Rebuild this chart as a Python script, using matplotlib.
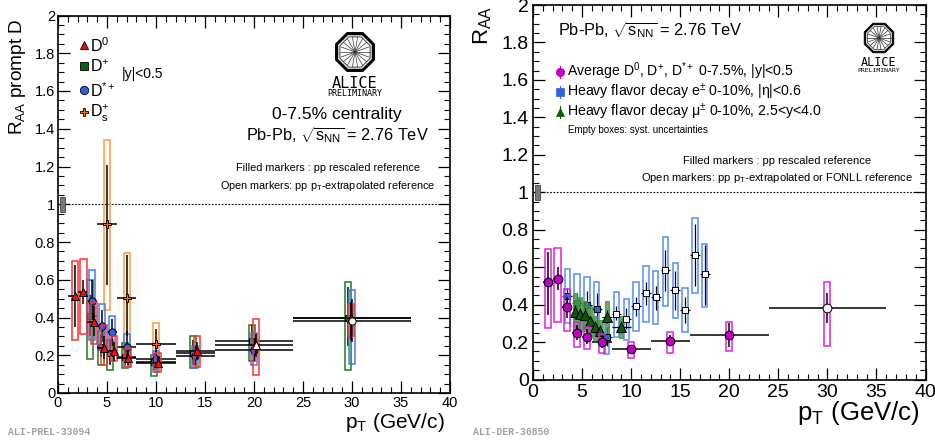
import numpy as np
import matplotlib
matplotlib.use("Agg")
import matplotlib.pyplot as plt
from matplotlib.patches import Rectangle, RegularPolygon
from matplotlib.ticker import MultipleLocator, FixedFormatter, FixedLocator
from matplotlib.transforms import Affine2D

plt.rcParams['font.family'] = ['Liberation Sans', 'DejaVu Sans']
plt.rcParams['mathtext.fontset'] = 'custom'
plt.rcParams['mathtext.rm'] = 'Liberation Sans'
plt.rcParams['mathtext.it'] = 'Liberation Sans'
plt.rcParams['mathtext.bf'] = 'Liberation Sans:bold'

# ---- Left panel data: pT, RAA, syst low/high, stat low/high, bin low/high
d0_pt = [1.7, 2.6, 3.7, 4.7, 5.7, 7.15, 10.2, 14.15, 20.2, 29.9]
d0_v = [0.515, 0.535, 0.378, 0.24, 0.22, 0.187, 0.16, 0.22, 0.254, 0.397]
d0_sl = [0.28, 0.31, 0.26, 0.15, 0.17, 0.14, 0.11, 0.14, 0.094, 0.30]
d0_sh = [0.70, 0.71, 0.48, 0.36, 0.30, 0.24, 0.21, 0.30, 0.39, 0.47]
d0_el = [0.35, 0.47, 0.30, 0.18, 0.17, 0.15, 0.13, 0.18, 0.19, 0.28]
d0_eh = [0.68, 0.60, 0.46, 0.30, 0.27, 0.23, 0.19, 0.27, 0.31, 0.48]
d0_xl = [1, 2, 3, 4, 5, 6, 8, 12, 16, 24]
d0_xh = [2, 3, 4, 5, 6, 8, 12, 16, 24, 36]
d0_open = [8]

dp_pt = [3.27, 4.35, 5.3, 6.85, 9.8, 13.8, 19.8, 29.6]
dp_v = [0.408, 0.245, 0.213, 0.192, 0.165, 0.213, 0.277, 0.397]
dp_sl = [0.18, 0.15, 0.12, 0.135, 0.09, 0.13, 0.17, 0.12]
dp_sh = [0.60, 0.33, 0.28, 0.265, 0.20, 0.30, 0.36, 0.59]
dp_el = [0.30, 0.19, 0.15, 0.15, 0.12, 0.15, 0.20, 0.25]
dp_eh = [0.52, 0.31, 0.28, 0.24, 0.21, 0.28, 0.36, 0.56]
dp_xl = [3, 4, 5, 6, 8, 12, 16, 24]
dp_xh = [4, 5, 6, 8, 12, 16, 24, 36]
dp_open = []

ds_pt = [3.5, 4.5, 5.5, 7.0, 10.0, 14.0, 20.0, 30.0]
ds_v = [0.487, 0.355, 0.322, 0.245, 0.18, 0.196, 0.228, 0.383]
ds_sl = [0.28, 0.23, 0.20, 0.14, 0.11, 0.135, 0.15, 0.154]
ds_sh = [0.65, 0.47, 0.41, 0.31, 0.22, 0.25, 0.32, 0.546]
ds_el = [0.40, 0.27, 0.25, 0.16, 0.13, 0.15, 0.17, 0.27]
ds_eh = [0.60, 0.44, 0.39, 0.33, 0.23, 0.25, 0.29, 0.50]
ds_xl = [3, 4, 5, 6, 8, 12, 16, 24]
ds_xh = [4, 5, 6, 8, 12, 16, 24, 36]
ds_open = [7]

dss_pt = [5.0, 7.0, 10.0]
dss_v = [0.895, 0.503, 0.26]
dss_sl = [0.44, 0.22, 0.13]
dss_sh = [1.34, 0.74, 0.37]
dss_el = [0.57, 0.30, 0.18]
dss_eh = [1.21, 0.73, 0.34]
dss_xl = [4, 6, 8]
dss_xh = [6, 8, 12]

# ---- Right panel data
avg_pt = [1.5, 2.5, 3.5, 4.5, 5.5, 7.0, 10.0, 14.0, 20.0, 30.0]
avg_v = [0.52, 0.538, 0.385, 0.247, 0.229, 0.199, 0.161, 0.206, 0.238, 0.382]
avg_sl = [0.275, 0.307, 0.258, 0.172, 0.161, 0.14, 0.113, 0.14, 0.154, 0.18]
avg_sh = [0.697, 0.70, 0.483, 0.307, 0.282, 0.243, 0.199, 0.255, 0.309, 0.522]
avg_el = [0.344, 0.48, 0.33, 0.21, 0.19, 0.17, 0.145, 0.18, 0.175, 0.303]
avg_eh = [0.68, 0.60, 0.44, 0.29, 0.27, 0.23, 0.18, 0.235, 0.30, 0.46]
avg_xl = [1, 2, 3, 4, 5, 6, 8, 12, 16, 24]
avg_xh = [2, 3, 4, 5, 6, 8, 12, 16, 24, 36]
avg_open = [9]

hfe_pt = [3.5, 4.5, 5.5, 6.5, 7.5, 8.5, 9.5, 10.5, 11.5, 12.5, 13.5, 14.5, 15.5, 16.5, 17.5]
hfe_v = [0.446, 0.41, 0.40, 0.376, 0.229, 0.352, 0.321, 0.391, 0.463, 0.442, 0.583, 0.478, 0.373, 0.665, 0.563]
hfe_sl = [0.30, 0.28, 0.27, 0.238, 0.136, 0.225, 0.209, 0.257, 0.309, 0.296, 0.394, 0.327, 0.255, 0.46, 0.389]
hfe_sh = [0.59, 0.565, 0.55, 0.519, 0.30, 0.469, 0.428, 0.519, 0.608, 0.579, 0.759, 0.624, 0.487, 0.86, 0.724]
hfe_el = [0.40, 0.36, 0.33, 0.29, 0.18, 0.32, 0.27, 0.34, 0.40, 0.37, 0.47, 0.37, 0.30, 0.50, 0.40]
hfe_eh = [0.49, 0.46, 0.47, 0.46, 0.28, 0.39, 0.38, 0.44, 0.52, 0.50, 0.69, 0.58, 0.44, 0.83, 0.72]
hfe_open_from = 5

mu_pt = [4.3, 4.8, 5.3, 5.8, 6.3, 6.8, 7.5, 9.0]
mu_v = [0.362, 0.35, 0.345, 0.31, 0.28, 0.26, 0.335, 0.28]
mu_sl = [0.27, 0.26, 0.26, 0.23, 0.21, 0.19, 0.25, 0.22]
mu_sh = [0.46, 0.44, 0.42, 0.39, 0.34, 0.32, 0.42, 0.34]
mu_el = [0.33, 0.32, 0.31, 0.28, 0.25, 0.24, 0.30, 0.25]
mu_eh = [0.40, 0.38, 0.38, 0.34, 0.31, 0.29, 0.37, 0.31]
mu_xl = [4.2, 4.7, 5.2, 5.7, 6.2, 6.7, 7.0, 8.0]
mu_xh = [4.4, 4.9, 5.4, 5.9, 6.4, 6.9, 8.0, 10.0]

x_ticks = [0, 5, 10, 15, 20, 25, 30, 35, 40]
y_ticks = [0, 0.2, 0.4, 0.6, 0.8, 1, 1.2, 1.4, 1.6, 1.8, 2]
y_labels = ['0', '0.2', '0.4', '0.6', '0.8', '1', '1.2', '1.4', '1.6', '1.8', '2']

W, H = 935, 443
fig = plt.figure(figsize=(W / 100, H / 100), dpi=100)


def axes_px(x0, x1, ytop, ybot):
    return fig.add_axes([x0 / W, 1 - ybot / H, (x1 - x0) / W, (ybot - ytop) / H])


def T(x, y, s, size, ha='left', va='center', **kw):
    kw.setdefault('color', 'black')
    return fig.text(x / W, 1 - y / H, s, fontsize=size, ha=ha, va=va, **kw)


def style(ax, lab, pad):
    ax.set_xlim(0, 40)
    ax.set_ylim(0, 2)
    ax.xaxis.set_major_locator(FixedLocator(x_ticks))
    ax.xaxis.set_minor_locator(MultipleLocator(1))
    ax.yaxis.set_major_locator(FixedLocator(y_ticks))
    ax.yaxis.set_major_formatter(FixedFormatter(y_labels))
    ax.yaxis.set_minor_locator(MultipleLocator(0.05))
    ax.tick_params(which='major', direction='in', top=True, right=True, length=8.5, width=0.9,
                   labelsize=lab, pad=pad)
    ax.tick_params(which='minor', direction='in', top=True, right=True, length=4, width=0.8)
    for s in ax.spines.values():
        s.set_linewidth(1.2)
    ax.axhline(1, color='black', lw=0.8, dashes=(1.5, 1.5), zorder=1)
    ax.add_patch(Rectangle((0.25, 0.96), 0.5, 0.08, fc='#777777', ec='#444444', lw=0.6, zorder=2))


def series(ax, pt, v, sl, sh, el, eh, xl, xh, box, face, marker, ms, z, bw=0.62, blw=1.1,
           open_idx=(), lw=1.1, mew=0.7):
    for i in range(len(pt)):
        ax.add_patch(Rectangle((pt[i] - bw / 2, sl[i]), bw, sh[i] - sl[i], fc='none', ec=box,
                               lw=blw, zorder=z))
    for i in range(len(pt)):
        ax.plot([pt[i], pt[i]], [el[i], eh[i]], color='black', lw=lw, zorder=z + 1,
                solid_capstyle='butt')
        ax.plot([xl[i], xh[i]], [v[i], v[i]], color='black', lw=lw, zorder=z + 1,
                solid_capstyle='butt')
    for i in range(len(pt)):
        is_open = i in open_idx
        ax.plot([pt[i]], [v[i]], marker=marker, ms=ms, mfc='white' if is_open else face,
                mec='black', mew=mew, ls='none', zorder=z + 2 + (20 if is_open else 0))


def logo(cx, cy, r, y1, y2, s1, s2, lw):
    t = Affine2D().scale(1, -1).translate(0, H) + Affine2D().scale(1 / W, 1 / H) + fig.transFigure
    fig.add_artist(RegularPolygon((cx, cy), 8, radius=r, orientation=np.pi / 8, fc='black', ec='black',
                                  lw=lw * 0.5, transform=t))
    fig.add_artist(RegularPolygon((cx, cy), 8, radius=r * 0.86, orientation=np.pi / 8, fc='white',
                                  ec='white', lw=0.2, transform=t))
    fig.add_artist(RegularPolygon((cx, cy), 8, radius=r * 0.78, orientation=np.pi / 8, fc='white',
                                  ec='#222222', lw=lw * 0.4, transform=t))
    for a in np.linspace(0, 2 * np.pi, 18, endpoint=False):
        fig.add_artist(plt.Line2D([cx, cx + 0.72 * r * np.cos(a)], [cy, cy + 0.72 * r * np.sin(a)],
                                  color='#333333', lw=0.5, transform=t))
    T(cx, y1, 'ALICE', s1, ha='center', family='DejaVu Sans Mono')
    T(cx, y2, 'PRELIMINARY', s2, ha='center', family='DejaVu Sans Mono')


# ---- Left panel
ax1 = axes_px(58, 450, 15.5, 393)
style(ax1, 10.5, 2)
series(ax1, dss_pt, dss_v, dss_sl, dss_sh, dss_el, dss_eh, dss_xl, dss_xh, '#ff9a40', '#f07010', 'P', 5.5, 3)
series(ax1, dp_pt, dp_v, dp_sl, dp_sh, dp_el, dp_eh, dp_xl, dp_xh, '#1f7a1f', '#0f5f0f', 's', 4.6, 6, open_idx=dp_open)
series(ax1, ds_pt, ds_v, ds_sl, ds_sh, ds_el, ds_eh, ds_xl, ds_xh, '#4a78f0', '#2f62e0', 'o', 5.2, 9, open_idx=ds_open)
series(ax1, d0_pt, d0_v, d0_sl, d0_sh, d0_el, d0_eh, d0_xl, d0_xh, '#ff3030', '#ee1010', '^', 5.4, 12, open_idx=d0_open)

# ---- Right panel
ax2 = axes_px(533, 925.5, 5, 379.5)
style(ax2, 14, 3)
series(ax2, hfe_pt, hfe_v, hfe_sl, hfe_sh, hfe_el, hfe_eh,
       [p - 0.5 for p in hfe_pt], [p + 0.5 for p in hfe_pt], '#5a8cf5', '#2f62e0', 's', 5.0, 3,
       bw=0.55, open_idx=range(hfe_open_from, len(hfe_pt)), lw=0.9)
for i in range(len(mu_pt)):
    ax2.add_patch(Rectangle((mu_pt[i] - 0.2, mu_sl[i]), 0.4, mu_sh[i] - mu_sl[i], fc='#3f9a3f',
                            ec='#3f9a3f', lw=0.8, alpha=0.8, zorder=7))
series(ax2, mu_pt, mu_v, mu_el, mu_eh, mu_el, mu_eh, mu_xl, mu_xh, '#3f9a3f', '#0a5a0a', '^', 6.5, 8,
       bw=0.2, blw=0.2, lw=0.9)
series(ax2, avg_pt, avg_v, avg_sl, avg_sh, avg_el, avg_eh, avg_xl, avg_xh, '#e020e0', '#c000c0', 'o', 6.3, 12,
       bw=0.62, open_idx=avg_open, lw=1.1)

# ---- Axis titles
T(18, 18, r'$\mathrm{R_{AA}}$ prompt D', 13.7, ha='center', va='top', rotation=90)
T(483, 6, r'$\mathrm{R_{AA}}$', 16, ha='center', va='top', rotation=90)
T(445, 423, r'$\mathrm{p_{T}}$ (GeV/c)', 15, ha='right')
T(920, 413, r'$\mathrm{p_{T}}$ (GeV/c)', 18.5, ha='right')

# ---- Left annotations
ax_marks = [('^', '#ee1010', 46, r'D$^{0}$'), ('s', '#0f5f0f', 67, r'D$^{+}$'),
            ('o', '#2f62e0', 91, r'D$^{*+}$'), ('P', '#f07010', 113, r'D$_{\mathrm{s}}^{+}$')]
for m, c, y, s in ax_marks:
    fig.add_artist(plt.Line2D([84 / W], [1 - (y - 1) / H], marker=m, ms=6, mfc=c, mec='black', mew=0.6,
                              ls='none', transform=fig.transFigure))
    T(90, y, s, 11.5)
T(122, 74, '|y|<0.5', 10)
T(337, 114, '0-7.5% centrality', 12.5, ha='center')
T(337, 135, r'Pb-Pb, $\sqrt{\mathrm{s_{NN}}}$ = 2.76 TeV', 11.7, ha='center')
T(420, 168, 'Filled markers : pp rescaled reference', 7.8, ha='right')
T(435, 186, r'Open markers: pp p$_{\mathrm{T}}$-extrapolated reference', 7.8, ha='right')
logo(355, 52, 21, 83, 94, 11, 6, 1.5)
T(8, 432, 'ALI-PREL-33094', 7, family='Liberation Mono', fontweight='bold', color='#a0a0a0')

# ---- Right annotations
T(558, 30, r'Pb-Pb, $\sqrt{\mathrm{s_{NN}}}$ = 2.76 TeV', 11.8, ha='left')
r_marks = [('o', '#c000c0', 72), ('s', '#2f62e0', 92), ('^', '#0a5a0a', 112)]
for m, c, y in r_marks:
    fig.add_artist(plt.Line2D([560 / W, 560 / W], [1 - (y - 6) / H, 1 - (y + 6) / H], color=c, lw=0.8,
                              transform=fig.transFigure))
    fig.add_artist(plt.Line2D([560 / W], [1 - y / H], marker=m, ms=6, mfc=c, mec=c, mew=0.5, ls='none',
                              transform=fig.transFigure))
T(567, 71, r'Average D$^{0}$, D$^{+}$, D$^{*+}$ 0-7.5%, |y|<0.5', 10.1)
T(567, 92, r'Heavy flavor decay e$^{\pm}$ 0-10%, |$\mathrm{\eta}$|<0.6', 10.2)
T(567, 112, r'Heavy flavor decay $\mathrm{\mu}^{\pm}$ 0-10%, 2.5<y<4.0', 10.2)
T(568, 130, 'Empty boxes: syst. uncertainties', 7)
T(871, 161, 'Filled markers : pp rescaled reference', 8, ha='right')
T(913, 178, r'Open markers: pp p$_{\mathrm{T}}$-extrapolated or FONLL reference', 8, ha='right')
logo(879, 38, 16, 62, 71, 8.5, 4.6, 1.2)
T(473, 432, 'ALI-DER-36850', 7, family='Liberation Mono', fontweight='bold', color='#a0a0a0')

fig.savefig('out.png', dpi=100)
